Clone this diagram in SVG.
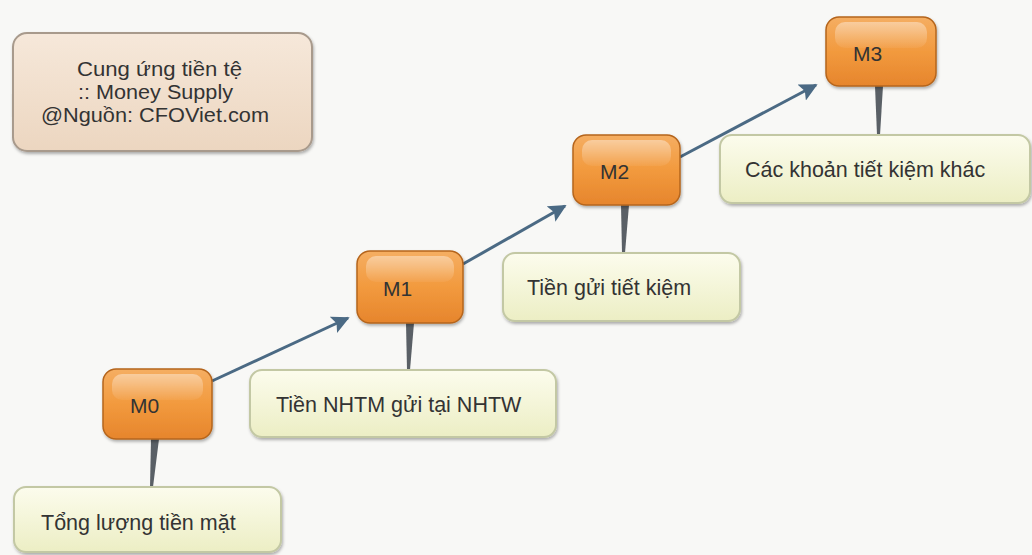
<svg xmlns="http://www.w3.org/2000/svg" width="1032" height="555" viewBox="0 0 1032 555">
<defs>
<linearGradient id="gOr" x1="0" y1="0" x2="0" y2="1">
<stop offset="0" stop-color="#f5ae62"/><stop offset="0.5" stop-color="#f29a3e"/><stop offset="1" stop-color="#e6852c"/>
</linearGradient>
<linearGradient id="gHi" x1="0" y1="0" x2="0" y2="1">
<stop offset="0" stop-color="#fff" stop-opacity="0.4"/><stop offset="1" stop-color="#fff" stop-opacity="0.05"/>
</linearGradient>
<linearGradient id="gLeaf" x1="0" y1="0" x2="0" y2="1">
<stop offset="0" stop-color="#fcfced"/><stop offset="1" stop-color="#eceec4"/>
</linearGradient>
<linearGradient id="gTitle" x1="0" y1="0" x2="0" y2="1">
<stop offset="0" stop-color="#f6e8da"/><stop offset="1" stop-color="#ecd6c0"/>
</linearGradient>
<filter id="sh" x="-10%" y="-10%" width="120%" height="130%">
<feDropShadow dx="1" dy="2" stdDeviation="1.5" flood-color="#000" flood-opacity="0.3"/>
</filter>
<marker id="ah" viewBox="0 0 10 10" refX="9" refY="5" markerWidth="6" markerHeight="6" orient="auto" markerUnits="strokeWidth">
<path d="M0,0 L10,5 L0,10 L2,5 z" fill="#4b6a84"/>
</marker>
</defs>
<style>
.node{fill:url(#gOr);stroke:#b5651c;stroke-width:1.5;filter:url(#sh)}
.hi{fill:url(#gHi)}
.leaf{fill:url(#gLeaf);stroke:#c3c8a4;stroke-width:2;filter:url(#sh)}
.title{fill:url(#gTitle);stroke:#a89a8c;stroke-width:2;filter:url(#sh)}
.t{font-family:"Liberation Sans",Arial,sans-serif;font-size:19.5px;fill:#333}
.lt{font-family:"Liberation Sans",Arial,sans-serif;font-size:21.5px;fill:#333}
.nt{font-family:"Liberation Sans",Arial,sans-serif;font-size:21px;fill:#333}
.stem{fill:#5a6066}
.arr{stroke:#4b6a84;stroke-width:3;fill:none;marker-end:url(#ah)}
</style>
<rect width="1032" height="555" fill="#f8f8f6"/>

<g id="title">
<rect class="title" x="13" y="33" width="299" height="118" rx="14"/>
<text class="t" x="77" y="76" textLength="165" lengthAdjust="spacingAndGlyphs">Cung ứng tiền tệ</text>
<text class="t" x="78" y="99" textLength="155" lengthAdjust="spacingAndGlyphs">:: Money Supply</text>
<text class="t" x="41" y="122" textLength="228" lengthAdjust="spacingAndGlyphs">@Nguồn: CFOViet.com</text>
</g>

<g id="connectors">
<line class="arr" x1="212" y1="381" x2="348" y2="318"/>
<line class="arr" x1="463" y1="264" x2="565" y2="206"/>
<line class="arr" x1="680" y1="157" x2="816" y2="85"/>
<polygon class="stem" points="151,439 159,439 153,487 150,487"/>
<polygon class="stem" points="406,323 414,323 410,370 407,370"/>
<polygon class="stem" points="621,205 629,205 625,253 622,253"/>
<polygon class="stem" points="875,86 883,86 880,135 877,135"/>
</g>

<g id="leaf0">
<rect class="leaf" x="14" y="487" width="267" height="65" rx="12"/>
<text class="lt" x="41" y="530">Tổng lượng tiền mặt</text>
</g>
<g id="leaf1">
<rect class="leaf" x="250" y="370" width="306" height="67" rx="12"/>
<text class="lt" x="276" y="412">Tiền NHTM gửi tại NHTW</text>
</g>
<g id="leaf2">
<rect class="leaf" x="503" y="253" width="237" height="68" rx="12"/>
<text class="lt" x="527" y="295">Tiền gửi tiết kiệm</text>
</g>
<g id="leaf3">
<rect class="leaf" x="720" y="135" width="310" height="68" rx="12"/>
<text class="lt" x="745" y="177">Các khoản tiết kiệm khác</text>
</g>

<g id="M0">
<rect class="node" x="103" y="369" width="109" height="70" rx="13"/>
<rect class="hi" x="112" y="374" width="91" height="26" rx="10"/>
<text class="nt" x="130" y="413">M0</text>
</g>
<g id="M1">
<rect class="node" x="357" y="251" width="106" height="72" rx="13"/>
<rect class="hi" x="366" y="256" width="88" height="26" rx="10"/>
<text class="nt" x="383" y="296">M1</text>
</g>
<g id="M2">
<rect class="node" x="573" y="135" width="107" height="70" rx="13"/>
<rect class="hi" x="582" y="140" width="89" height="26" rx="10"/>
<text class="nt" x="600" y="179">M2</text>
</g>
<g id="M3">
<rect class="node" x="826" y="17" width="110" height="69" rx="13"/>
<rect class="hi" x="835" y="22" width="92" height="26" rx="10"/>
<text class="nt" x="853" y="61">M3</text>
</g>
</svg>
